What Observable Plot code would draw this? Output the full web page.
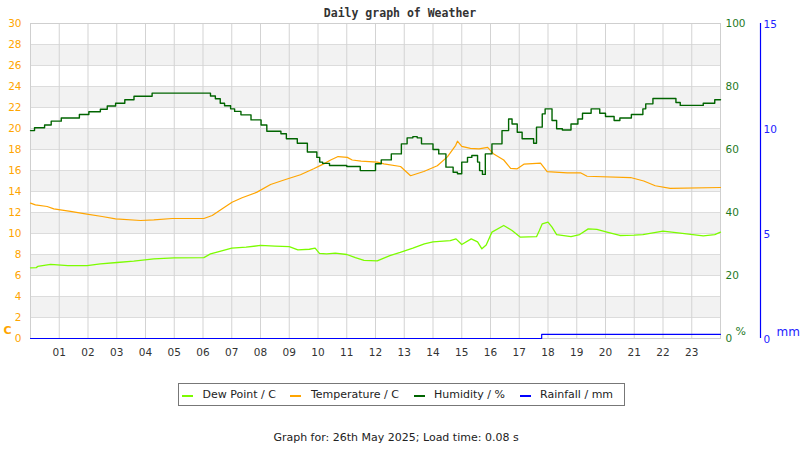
<!DOCTYPE html>
<html>
<head>
<meta charset="utf-8">
<script src="https://cdn.jsdelivr.net/npm/d3@7"></script>
<script src="https://cdn.jsdelivr.net/npm/@observablehq/plot@0.6"></script>
<style>
  body { margin: 0; background: #fff; font-family: "DejaVu Sans", sans-serif; }
  #wrap { width: 800px; height: 450px; position: relative; }
  #title { height: 18px; line-height: 26px; text-align: center; font-family: "DejaVu Sans Mono", monospace; font-weight: bold; font-size: 11.5px; color: #333; overflow: visible; }
  #legend { margin-top: 15px; margin-left: 178px; width: 447px; height: 23px; box-sizing: border-box; border: 1px solid #777; display: flex; flex-wrap: nowrap; align-items: center; font-size: 11px; color: #222; padding-left: 3px; white-space: nowrap; }
  #legend .sw { display: inline-block; flex: 0 0 11px; width: 11px; height: 2px; margin-right: 9.5px; margin-top: 2px; }
  #legend .it { display: flex; flex: 0 0 auto; align-items: center; margin-right: 14.5px; white-space: nowrap; }
  #caption { margin-top: 25px; line-height: 14px; text-align: center; font-size: 11px; color: #222; padding-right: 8px; }
  svg { overflow: visible; }
</style>
</head>
<body>
<div id="wrap">
  <div id="title">Daily graph of Weather</div>
  <div id="chart"></div>
  <div id="legend"></div>
  <div id="caption">Graph for: 26th May 2025; Load time: 0.08 s</div>
</div>
<script>
// ---- data (hour of day, value) ----
const humidity = [
  [0,66.0],[0.14,66.9],[0.49,67.8],[0.72,69.0],[1.07,70.0],[1.7,71.1],[2.03,72.0],[2.43,72.8],
  [2.67,73.8],[2.96,74.7],[3.28,75.8],[3.6,76.9],[4.23,77.9],[6.26,77.0],[6.43,76.1],[6.6,74.7],
  [6.75,73.9],[6.96,72.9],[7.1,72.1],[7.32,71.0],[7.67,69.4],[8.02,67.8],[8.22,65.8],[8.71,65.0],
  [8.9,63.4],[9.28,62.0],[9.63,59.2],[9.96,57.5],[10.06,56.0],[10.16,55.6],[10.4,54.9],[11.0,54.6],
  [11.47,53.3],[12.0,55.5],[12.2,56.7],[12.55,58.6],[12.9,61.8],[13.1,63.7],[13.3,64.1],[13.45,63.7],
  [13.6,61.8],[14.0,60.0],[14.2,58.6],[14.45,54.4],[14.7,52.8],[14.85,52.3],[15.0,56.0],[15.2,57.5],
  [15.35,58.1],[15.55,56.0],[15.62,53.3],[15.72,52.1],[15.82,58.6],[16.05,61.8],[16.4,66.0],[16.63,69.7],
  [16.75,68.1],[16.93,65.5],[17.1,63.4],[17.5,62.0],[17.6,67.1],[17.8,71.3],[17.9,72.9],[18.14,69.2],
  [18.3,66.6],[18.5,66.2],[18.8,68.1],[19.04,69.7],[19.2,71.5],[19.5,72.9],[19.8,71.5],[20.0,70.5],
  [20.3,69.2],[20.5,70.0],[20.9,71.1],[21.3,72.9],[21.4,74.5],[21.65,76.2],[22.45,74.9],[22.6,74.0],
  [23.4,74.7],[23.8,75.8],[24,75.8]
];
const temperature = [
  [0,12.89],[0.17,12.73],[0.58,12.57],[0.81,12.35],[1.39,12.10],[1.91,11.87],[2.49,11.62],[2.96,11.40],
  [3.83,11.24],[4.29,11.30],[4.93,11.43],[6.03,11.43],[6.32,11.71],[6.67,12.35],[7.01,12.98],[7.36,13.40],
  [7.88,13.94],[8.35,14.67],[8.87,15.14],[9.39,15.6],[9.85,16.16],[10.2,16.63],[10.44,17.0],[10.7,17.33],
  [11.02,17.25],[11.19,17.0],[11.5,16.89],[12.06,16.8],[12.29,16.63],[12.87,16.38],[13.22,15.5],[13.68,15.9],
  [14.15,16.45],[14.5,17.3],[14.79,18.4],[14.85,18.79],[15.0,18.3],[15.3,18.1],[15.6,18.06],[15.9,18.2],
  [16.1,17.6],[16.46,17.0],[16.7,16.2],[16.93,16.16],[17.16,16.6],[17.74,16.7],[17.97,15.9],[18.67,15.78],
  [19.13,15.78],[19.36,15.45],[20.87,15.33],[21.33,15.0],[21.73,14.55],[22.25,14.3],[24,14.38]
];
const dewPoint = [
  [0,6.73],[0.2,6.75],[0.25,6.86],[0.7,7.05],[1.3,6.95],[1.97,6.95],[2.43,7.11],[3.01,7.24],
  [3.59,7.36],[4.29,7.59],[4.99,7.68],[6.03,7.70],[6.26,8.06],[6.49,8.22],[7.0,8.6],[7.5,8.7],
  [8.0,8.86],[8.5,8.79],[9.0,8.75],[9.3,8.44],[9.7,8.5],[9.9,8.6],[10.05,8.1],[10.3,8.06],
  [10.6,8.13],[11.0,8.0],[11.3,7.7],[11.6,7.45],[12.06,7.4],[12.5,7.9],[12.86,8.2],[13.3,8.6],
  [13.7,9.02],[14.0,9.2],[14.6,9.33],[14.8,9.49],[15.0,8.95],[15.33,9.49],[15.55,9.2],[15.7,8.54],
  [15.85,8.9],[16.05,10.13],[16.46,10.76],[16.75,10.29],[17.04,9.65],[17.6,9.7],[17.7,10.29],[17.8,10.92],
  [18.0,11.08],[18.14,10.6],[18.3,9.9],[18.8,9.71],[19.1,9.9],[19.4,10.44],[19.7,10.4],[20.05,10.13],
  [20.5,9.81],[21.0,9.85],[21.3,9.9],[22.0,10.22],[22.6,10.03],[23.4,9.78],[23.8,9.9],[24,10.13]
];
const rainfall = [[0,0],[17.78,0.2],[24,0.2]];

const xTicks = [1,2,3,4,5,6,7,8,9,10,11,12,13,14,15,16,17,18,19,20,21,22,23];
const xTickLabels = ["01","02","03","04","05","06","07","08","09","10","11","12","13","14","15","16","17","18","19","20","21","22","23"];
const tempTicks = [0,2,4,6,8,10,12,14,16,18,20,22,24,26,28,30];
const humTicks = [0,20,40,60,80,100];
const rainTicks = [0,5,10,15];
const bandStarts = [2,6,10,14,18,22,26];

const series = [
  {name: "Dew Point / C", color: "#7CFC00"},
  {name: "Temperature / C", color: "#FFA500"},
  {name: "Humidity / %", color: "#006400"},
  {name: "Rainfall / mm", color: "#0000FF"}
];

const HUM = 30 / 100;  // humidity -> left scale
const RAIN = 30 / 15;  // rainfall -> left scale

const chart = Plot.plot({
  width: 800,
  height: 350,
  marginTop: 5,
  marginBottom: 30,
  marginLeft: 30,
  marginRight: 80,
  style: {fontFamily: "DejaVu Sans", fontSize: "10px", overflow: "visible", background: "white"},
  x: {domain: [0, 24]},
  y: {domain: [0, 30]},
  marks: [
    Plot.rect(bandStarts, {x1: 0, x2: 24, y1: d => d, y2: d => d + 2, fill: "#f2f2f2"}),
    Plot.ruleY(tempTicks, {stroke: "#dcdcdc"}),
    Plot.ruleX(xTicks, {stroke: "#d3d3d3"}),
    Plot.frame({stroke: "#cfcfcf"}),
    Plot.axisY(tempTicks, {anchor: "left", tickSize: 0, tickPadding: 9, fill: "#FFA500", fontSize: 10.5}),
    Plot.axisX(xTicks, {anchor: "bottom", tickSize: 0, tickPadding: 10, fill: "#333", fontSize: 10.5,
      tickFormat: d => xTickLabels[xTicks.indexOf(d)]}),
    Plot.text(humTicks, {y: d => d * HUM, text: d => String(d), frameAnchor: "right", textAnchor: "start", dx: 5, fill: "#1f7a1f", fontSize: 10.5}),
    Plot.ruleX([24], {dx: 40, stroke: "#0000FF", strokeWidth: 1.2}),
    Plot.text(rainTicks, {y: d => d * RAIN, text: d => String(d), frameAnchor: "right", textAnchor: "start", dx: 43, dy: 1, fill: "#2222FF", fontSize: 10.5}),
    Plot.text(["C"], {frameAnchor: "bottom-left", textAnchor: "start", dx: -27, dy: -5, fill: "#FFA500", fontWeight: "bold", fontSize: 11}),
    Plot.text(["%"], {frameAnchor: "bottom-right", textAnchor: "start", dx: 15, dy: -4, fill: "#1f7a1f", fontSize: 11}),
    Plot.text(["mm"], {frameAnchor: "bottom-right", textAnchor: "start", dx: 56, dy: -3, fill: "#2222FF", fontSize: 12}),
    Plot.line(dewPoint, {x: d => d[0], y: d => d[1], stroke: "#7CFC00", strokeWidth: 1.3}),
    Plot.line(temperature, {x: d => d[0], y: d => d[1], stroke: "#FFA500", strokeWidth: 1.2}),
    Plot.line(humidity, {x: d => d[0], y: d => d[1] * HUM, curve: "step-after", stroke: "#006400", strokeWidth: 1.4}),
    Plot.line(rainfall, {x: d => d[0], y: d => d[1] * RAIN, curve: "step-after", stroke: "#0000FF", strokeWidth: 1.2})
  ]
});
document.getElementById("chart").appendChild(chart);

const legend = document.getElementById("legend");
for (const s of series) {
  const it = document.createElement("span");
  it.className = "it";
  const sw = document.createElement("span");
  sw.className = "sw";
  sw.style.background = s.color;
  it.appendChild(sw);
  it.appendChild(document.createTextNode(s.name));
  legend.appendChild(it);
}
</script>
</body>
</html>
